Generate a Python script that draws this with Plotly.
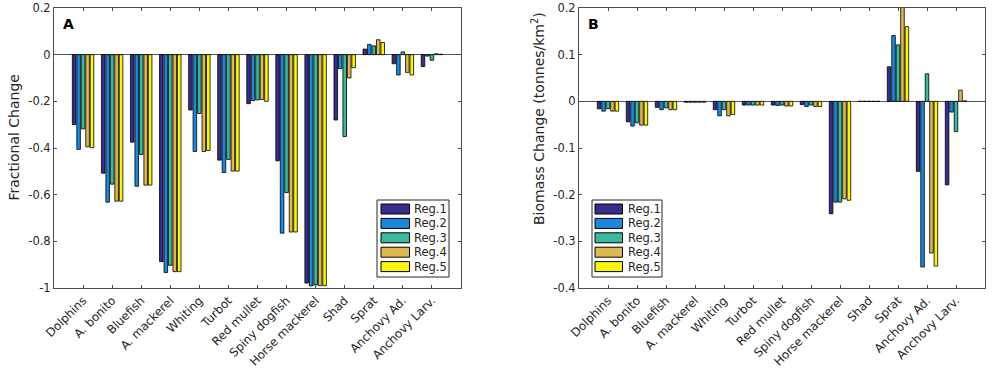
import plotly.graph_objects as go

species = ["Dolphins", "A. bonito", "Bluefish", "A. mackerel", "Whiting", "Turbot",
           "Red mullet", "Spiny dogfish", "Horse mackerel", "Shad", "Sprat",
           "Anchovy Ad.", "Anchovy Larv."]
regions = ["Reg.1", "Reg.2", "Reg.3", "Reg.4", "Reg.5"]
colors = ["#382c8c", "#1c88dd", "#3bb99c", "#e0b850", "#f8f60f"]

# Panel A: fractional change, one list per region
frac_reg1 = [-0.300, -0.508, -0.375, -0.887, -0.237, -0.452, -0.210, -0.455, -0.979, -0.280, 0.024, -0.039, -0.051]
frac_reg2 = [-0.406, -0.632, -0.564, -0.934, -0.415, -0.505, -0.197, -0.765, -0.991, -0.060, 0.044, -0.087, -0.006]
frac_reg3 = [-0.318, -0.555, -0.428, -0.903, -0.252, -0.449, -0.194, -0.591, -0.987, -0.351, 0.038, 0.012, -0.024]
frac_reg4 = [-0.395, -0.628, -0.559, -0.930, -0.415, -0.499, -0.192, -0.760, -0.990, -0.100, 0.064, -0.076, 0.004]
frac_reg5 = [-0.399, -0.628, -0.559, -0.930, -0.411, -0.499, -0.200, -0.760, -0.990, -0.056, 0.052, -0.087, 0.002]

# Panel B: biomass change (tonnes/km2), one list per region
bio_reg1 = [-0.016, -0.044, -0.013, -0.002, -0.018, -0.008, -0.008, -0.007, -0.241, 0.0, 0.074, -0.150, -0.179]
bio_reg2 = [-0.021, -0.053, -0.018, -0.002, -0.031, -0.008, -0.009, -0.011, -0.216, 0.0, 0.141, -0.355, -0.023]
bio_reg3 = [-0.016, -0.046, -0.014, -0.002, -0.018, -0.008, -0.008, -0.008, -0.216, 0.0, 0.121, 0.059, -0.065]
bio_reg4 = [-0.021, -0.051, -0.018, -0.002, -0.031, -0.008, -0.010, -0.011, -0.209, 0.0, 0.205, -0.325, 0.024]
bio_reg5 = [-0.021, -0.051, -0.018, -0.002, -0.028, -0.008, -0.010, -0.011, -0.212, 0.0, 0.160, -0.353, 0.001]

yticks_a = [0.2, 0, -0.2, -0.4, -0.6, -0.8, -1]
yticks_b = [0.2, 0.1, 0, -0.1, -0.2, -0.3, -0.4]

frac = [frac_reg1, frac_reg2, frac_reg3, frac_reg4, frac_reg5]
bio = [bio_reg1, bio_reg2, bio_reg3, bio_reg4, bio_reg5]

FONT = "DejaVu Sans"
TXT = "#262626"
AX = "#4d4d4d"

fig = go.Figure()
for i, r in enumerate(regions):
    fig.add_trace(go.Bar(x=species, y=frac[i], name=r, marker_color=colors[i],
                         marker_line=dict(color="black", width=0.8),
                         xaxis="x", yaxis="y", showlegend=False))
for i, r in enumerate(regions):
    fig.add_trace(go.Bar(x=species, y=bio[i], name=r, marker_color=colors[i],
                         marker_line=dict(color="black", width=0.8),
                         xaxis="x2", yaxis="y2", showlegend=False))

W, H = 992, 370
# plot-area edges in window pixels
L, R, T, B = 54, 985, 8, 288
ml, mr, mt, mb = L, W - R, T, H - B
pw = R - L
ph = B - T

def px_x(p):
    return (p - L) / pw

def px_y(p):
    return 1 - (p - T) / ph

common_x = dict(type="category", range=[-1, 13], showline=True, linecolor=AX, linewidth=1,
                mirror="ticks", ticks="inside", ticklen=3, tickcolor=AX, tickangle=-45,
                tickfont=dict(family=FONT, size=11.8, color=TXT), showgrid=False,
                zeroline=False, automargin=False, ticklabeloverflow="allow")
common_y = dict(showline=True, linecolor=AX, linewidth=1, mirror="ticks", ticks="inside",
                ticklen=3, tickcolor=AX, tickfont=dict(family=FONT, size=11.5, color=TXT),
                showgrid=False, zeroline=True, zerolinecolor="#555555", zerolinewidth=1,
                automargin=False, ticklabeloverflow="allow")

# custom legends (box + swatches + labels), one per panel
shapes = []
annotations = []
legend_boxes = [(377, 449, 381, 409.5, 412), (592, 662, 595, 622.5, 625.5)]
row_y0, row_dy, sw_h = 209, 14.4, 10
for (bx0, bx1, sx0, sx1, tx) in legend_boxes:
    shapes.append(dict(type="rect", xref="paper", yref="paper",
                       x0=px_x(bx0), x1=px_x(bx1), y0=px_y(200), y1=px_y(277),
                       line=dict(color="#262626", width=1), fillcolor="white", layer="above"))
    for i, r in enumerate(regions):
        cy = row_y0 + i * row_dy
        shapes.append(dict(type="rect", xref="paper", yref="paper",
                           x0=px_x(sx0), x1=px_x(sx1),
                           y0=px_y(cy - sw_h / 2), y1=px_y(cy + sw_h / 2),
                           line=dict(color="black", width=1), fillcolor=colors[i],
                           layer="above"))
        annotations.append(dict(text=r, x=px_x(tx), y=px_y(cy), xref="paper", yref="paper",
                                xanchor="left", yanchor="middle", showarrow=False,
                                font=dict(family=FONT, size=11.5, color=TXT)))

annotations += [
    dict(text="<b>A</b>", x=px_x(61), y=px_y(14), xref="paper", yref="paper",
         xanchor="left", yanchor="top", showarrow=False,
         font=dict(family=FONT, size=14, color="black")),
    dict(text="<b>B</b>", x=px_x(586), y=px_y(14), xref="paper", yref="paper",
         xanchor="left", yanchor="top", showarrow=False,
         font=dict(family=FONT, size=14, color="black")),
    dict(text="Fractional Change", x=px_x(13.5), y=px_y(138), xref="paper", yref="paper",
         xanchor="center", yanchor="middle",
         textangle=-90, showarrow=False, font=dict(family=FONT, size=14, color=TXT)),
    dict(text="Biomass Change (tonnes/km<sup>2</sup>)", x=px_x(538), y=px_y(119),
         xref="paper", yref="paper", xanchor="center", yanchor="middle",
         textangle=-90, showarrow=False,
         font=dict(family=FONT, size=14, color=TXT)),
]

fig.update_layout(
    width=W, height=H,
    margin=dict(l=ml, r=mr, t=mt, b=mb, pad=0),
    paper_bgcolor="white", plot_bgcolor="white",
    barmode="group", bargap=0.231, bargroupgap=0.2,
    font=dict(family=FONT, color=TXT),
    showlegend=False,
    xaxis=dict(common_x, domain=[0, px_x(461)], anchor="y"),
    yaxis=dict(common_y, range=[-1, 0.2], tickvals=yticks_a,
               ticktext=[f"{v:g}" for v in yticks_a], anchor="x"),
    xaxis2=dict(common_x, domain=[px_x(579), 1], anchor="y2"),
    yaxis2=dict(common_y, range=[-0.4, 0.2], tickvals=yticks_b,
                ticktext=[f"{v:g}" for v in yticks_b], anchor="x2"),
    shapes=shapes,
    annotations=annotations,
)

# remove the browser's default 8px body margin so the figure fills the window
fig.write_html("out.html", config={"displayModeBar": False},
               post_script="document.body.style.margin='0';")
